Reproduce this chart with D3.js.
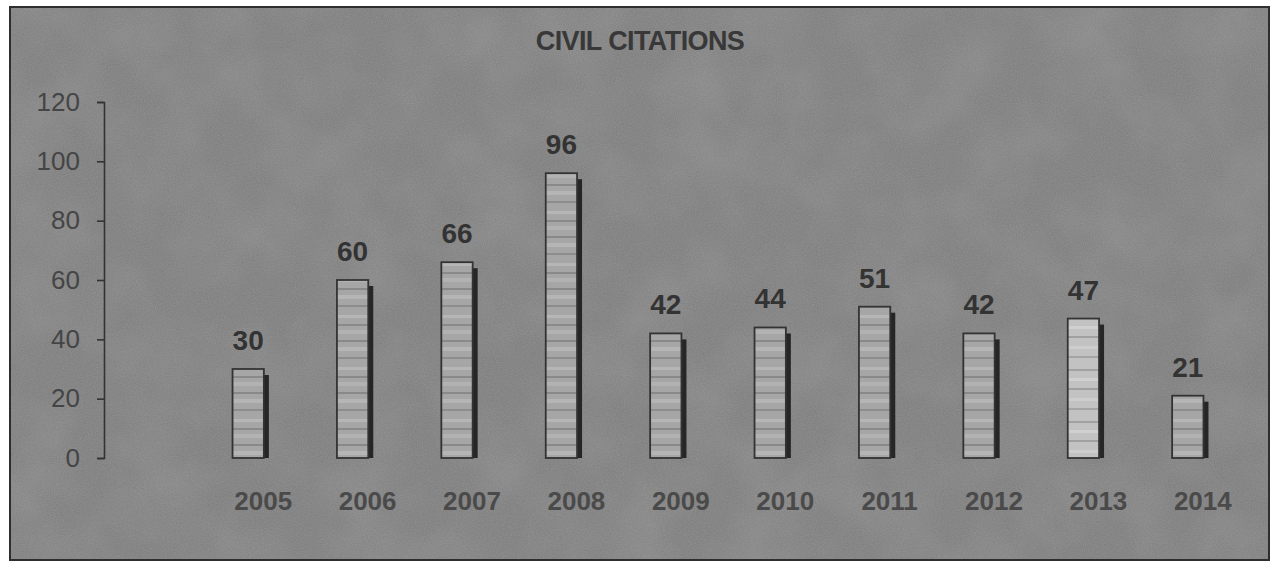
<!DOCTYPE html>
<html><head><meta charset="utf-8">
<script src="https://cdn.jsdelivr.net/npm/d3@7"></script>
<style>html,body{margin:0;padding:0;background:#fff;}svg{display:block;}</style>
</head><body>
<svg id="c" width="1275" height="566"></svg>
<script>
const title = "CIVIL CITATIONS";
const years = ["2005","2006","2007","2008","2009","2010","2011","2012","2013","2014"];
const citations = [30,60,66,96,42,44,51,42,47,21];
const yTicks = [0,20,40,60,80,100,120];

const svg = d3.select("#c");
const defs = svg.append("defs");

// paper texture: fine grain + subtle dark blotches
const f = defs.append("filter").attr("id","tex").attr("x",0).attr("y",0).attr("width","100%").attr("height","100%");
f.append("feTurbulence").attr("type","fractalNoise").attr("baseFrequency","0.015").attr("numOctaves",3).attr("seed",7).attr("result","b");
f.append("feColorMatrix").attr("in","b").attr("type","matrix")
 .attr("values","0 0 0 0 0.35  0 0 0 0 0.35  0 0 0 0 0.35  0.5 0 0 0 -0.18").attr("result","bg");
f.append("feTurbulence").attr("type","fractalNoise").attr("baseFrequency","0.85").attr("numOctaves",2).attr("seed",3).attr("result","n");
f.append("feColorMatrix").attr("in","n").attr("type","matrix")
 .attr("values","0 0 0 0 0.5  0 0 0 0 0.5  0 0 0 0 0.5  0 0 0 0.28 0").attr("result","g");
f.append("feMerge").call(m=>{
  m.append("feMergeNode").attr("in","SourceGraphic");
  m.append("feMergeNode").attr("in","bg");
  m.append("feMergeNode").attr("in","g");
});

// bar stripe pattern
const pat = defs.append("pattern").attr("id","stripes").attr("patternUnits","userSpaceOnUse").attr("width",40).attr("height",52);
pat.append("rect").attr("width",40).attr("height",52).attr("fill","#a6a6a6");
[[3,3,"#b6b6b6"],[12,2,"#8a8a8a"],[18,4,"#b2b2b2"],[28,2,"#898989"],[35,4,"#b5b5b5"],[45,2,"#8d8d8d"]].forEach(([y,h,c])=>{
  pat.append("rect").attr("y",y).attr("width",40).attr("height",h).attr("fill",c);
});
const pat2 = defs.append("pattern").attr("id","stripes2").attr("patternUnits","userSpaceOnUse").attr("width",40).attr("height",52);
pat2.append("rect").attr("width",40).attr("height",52).attr("fill","#c2c2c2");
[[5,2,"#a2a2a2"],[14,3,"#d0d0d0"],[24,2,"#a0a0a0"],[34,3,"#cdcdcd"],[44,2,"#a4a4a4"]].forEach(([y,h,c])=>{
  pat2.append("rect").attr("y",y).attr("width",40).attr("height",h).attr("fill",c);
});

// frame
svg.append("rect").attr("x",10).attr("y",7).attr("width",1259).attr("height",553)
  .attr("fill","#7a7a7a").attr("filter","url(#tex)");
svg.append("rect").attr("x",10).attr("y",7).attr("width",1259).attr("height",553)
  .attr("fill","none").attr("stroke","#2e2e2e").attr("stroke-width",2);

const y = d3.scaleLinear().domain([0,120]).range([458,102]);
const x = d3.scaleBand().domain(years).range([196,1240]).paddingInner(0.7).paddingOuter(0.35);
const FONT = "Liberation Sans, Arial, sans-serif";

// title
svg.append("text").attr("x",640).attr("y",50).attr("text-anchor","middle")
  .attr("font-family",FONT).attr("font-weight","bold")
  .attr("font-size",27).attr("fill","#383838").attr("letter-spacing","-0.6").text(title);

// y axis
const yAxis = d3.axisLeft(y).tickValues(yTicks).tickSize(7).tickPadding(17);
const gy = svg.append("g").attr("transform","translate(104,0)").call(yAxis);
gy.select(".domain").attr("stroke","#333").attr("stroke-width",1.6);
gy.selectAll(".tick line").attr("stroke","#333").attr("stroke-width",1.6);
gy.selectAll(".tick text").attr("font-family",FONT)
  .attr("font-size",26).attr("fill","#454545");

// bars
const bars = svg.append("g");
years.forEach((yr,i)=>{
  const v = citations[i];
  const bx = x(yr), bw = x.bandwidth(), by = y(v), bh = y(0)-y(v);
  bars.append("rect").attr("x",bx+bw).attr("y",by+6).attr("width",5).attr("height",bh-6).attr("fill","#262626");
  bars.append("rect").attr("x",bx).attr("y",by).attr("width",bw).attr("height",bh)
    .attr("fill", yr==="2013" ? "url(#stripes2)" : "url(#stripes)")
    .attr("stroke","#333").attr("stroke-width",1.8);
  bars.append("text").attr("x",bx+bw/2).attr("y",by-19).attr("text-anchor","middle")
    .attr("font-family",FONT).attr("font-weight","bold")
    .attr("font-size",28).attr("fill","#333").text(v);
});

// x labels
const xAxis = d3.axisBottom(x).tickSize(0).tickPadding(0);
const gx = svg.append("g").attr("transform","translate(15,510)").call(xAxis);
gx.select(".domain").remove();
gx.selectAll(".tick text").attr("dy",0).attr("font-family",FONT)
  .attr("font-weight","bold").attr("font-size",26).attr("fill","#4a4a4a");
</script>
</body></html>
